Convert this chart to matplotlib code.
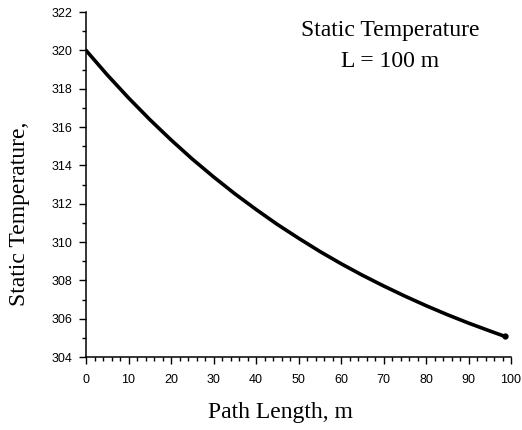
import matplotlib
matplotlib.use("Agg")
import matplotlib.pyplot as plt
from matplotlib.ticker import MultipleLocator

# path length (m) and static temperature
path_len = [0, 5, 10, 15, 20, 25, 30, 35, 40, 45, 50, 55, 60, 65, 70, 75, 80, 85, 90, 95, 98.5]
temp = [320.00, 318.72, 317.52, 316.39, 315.33, 314.33, 313.40, 312.52, 311.70, 310.92,
        310.20, 309.51, 308.87, 308.27, 307.71, 307.18, 306.68, 306.21, 305.77, 305.36, 305.08]

x_ticks = [0, 10, 20, 30, 40, 50, 60, 70, 80, 90, 100]
y_ticks = [304, 306, 308, 310, 312, 314, 316, 318, 320, 322]

fig = plt.figure(figsize=(5.22, 4.30), dpi=100)
ax = fig.add_axes([86/522, 73/430, 425/522, 345/430])

ax.plot(path_len, temp, color='black', lw=2.6, solid_capstyle='round')
ax.plot(path_len[-1], temp[-1], 'o', color='black', ms=3.5)

ax.set_xlim(0, 100)
ax.set_ylim(304, 322)
ax.set_xticks(x_ticks)
ax.set_yticks(y_ticks)
ax.xaxis.set_minor_locator(MultipleLocator(2))
ax.yaxis.set_minor_locator(MultipleLocator(1))

for s in ['top', 'right']:
    ax.spines[s].set_visible(False)
for s in ['left', 'bottom']:
    ax.spines[s].set_linewidth(1.1)

ax.tick_params(which='major', direction='out', length=5, width=1.0, labelsize=9)
ax.tick_params(which='minor', direction='out', length=3, width=1.0)
ax.tick_params(axis='y', which='major', pad=5)
ax.tick_params(axis='x', which='major', pad=7)
for lab in ax.get_xticklabels() + ax.get_yticklabels():
    lab.set_family('Liberation Sans')

serif = 'Liberation Serif'
fig.text(280/522, 1 - 418/430, 'Path Length, m', family=serif, fontsize=17,
         ha='center', va='baseline')
fig.text(20/522, 1 - 214/430, 'Static Temperature,', family=serif, fontsize=17,
         rotation=90, ha='center', va='center')
fig.text(390/522, 1 - 36/430, 'Static Temperature', family=serif, fontsize=17,
         ha='center', va='baseline')
fig.text(390/522, 1 - 67/430, 'L = 100 m', family=serif, fontsize=17,
         ha='center', va='baseline')

fig.savefig('out.png', dpi=100)
